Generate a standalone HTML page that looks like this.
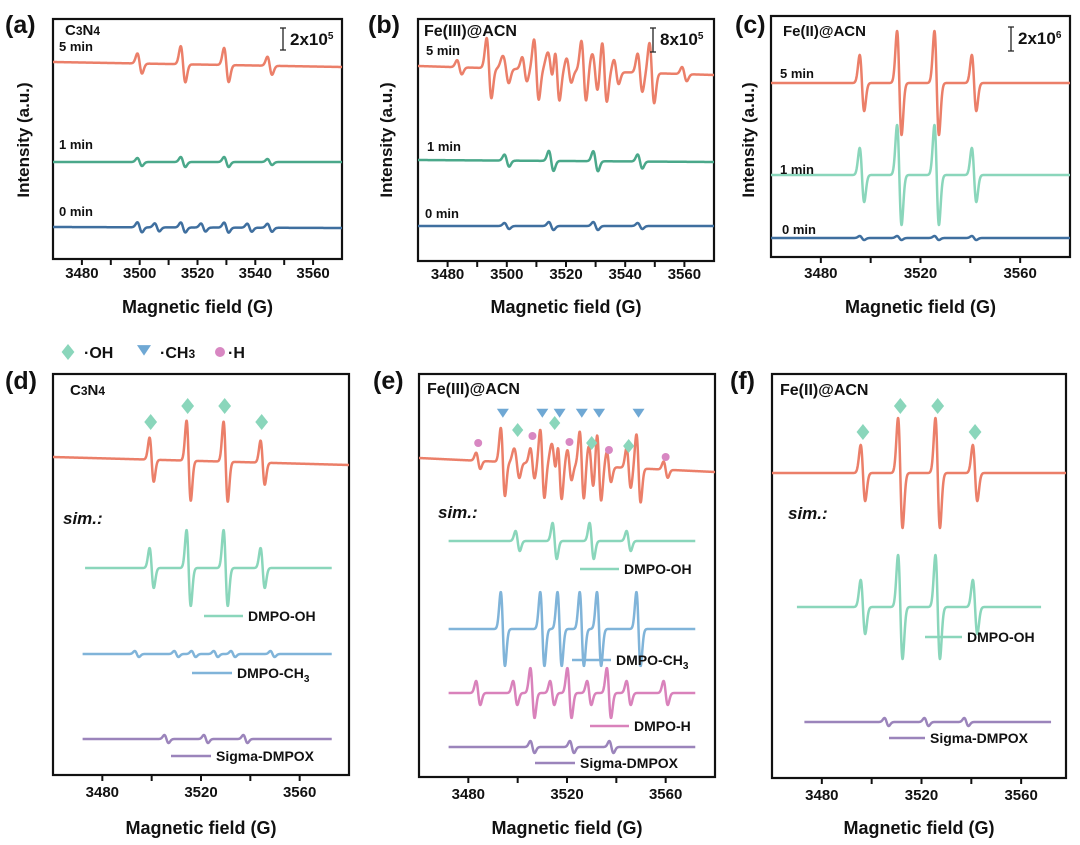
<!DOCTYPE html>
<html><head><meta charset="utf-8"><style>
html,body{margin:0;padding:0;background:#fff;}
svg{display:block;font-family:"Liberation Sans","Noto Sans CJK SC",sans-serif;font-weight:bold;}
</style></head><body>
<svg id="fig" width="1080" height="845" viewBox="0 0 1080 845">
<g id="static"></g>
</svg>
<script>
// ---- data ----
const ohPosA=[3500,3515,3530,3545];
const ohPosC=[3496.5,3511.5,3526.5,3541.5];
const ch3Pos=[3494,3510,3517,3526,3533,3549];
const hPos=[3484,3499,3506,3514,3521,3529,3537,3545,3560];
const oxPos=[3506,3522,3538];
const a5OH=[10,18,17,9];
const a1OH=[4,5,5,3];
const a0OH=[5,5,5,4];
const a0OX=[4,4,4];
const b5OH=[12,18,18,12];
const b5CH3=[30,30,30,30,30,30];
const b5H=[7,7,12,7,12,7,12,7,7];
const b1OH=[6,10,10,7];
const b0OH=[3,4,4,3];
const c5OH=[28,52,52,28];
const c1OH=[27,50,50,27];
const c0OH=[2,2,2,2];
const dExpOH=[22,40,40,22];
const dSimOH=[20,38,38,20];
const dSimCH3=[3,3,3,3,3,3];
const dSimOX=[4,4,4];
const eExpOH=[12,20,20,12];
const eExpCH3=[34,34,34,34,34,34];
const eExpH=[8,8,15,8,15,8,15,8,8];
const eSimOH=[10,18,18,10];
const eSimCH3=[37,37,37,37,37,37];
const eSimH=[12,12,25,12,25,12,25,12,12];
const eSimOX=[6,6,6];
const fExpOH=[28,55,55,28];
const fSimOH=[27,52,52,27];
const fSimOX=[4,4,4];
const ticksAB=[3480,3500,3520,3540,3560];
const ticksCF=[3480,3520,3560];

const NS='http://www.w3.org/2000/svg';
const svg=document.getElementById('fig');
function mk(tag,attrs,parent){const e=document.createElementNS(NS,tag);for(const k in attrs)e.setAttribute(k,attrs[k]);(parent||svg).appendChild(e);return e;}
function txt(x,y,s,size,anchor,name,extra){const t=mk('text',Object.assign({x:x,y:y,'font-size':size,'text-anchor':anchor||'start',fill:'#111'},extra||{}));t.innerHTML=s;


return t;}

function panel(p){
  p.sx=b=>p.x0+(b-p.bmin)/(p.bmax-p.bmin)*(p.x1-p.x0);
  const r=mk('rect',{x:p.x0,y:p.y0,width:p.x1-p.x0,height:p.y1-p.y0,fill:'none',stroke:'#111','stroke-width':2.2});
  
  
  const step=p.minor;
  for(let b=Math.ceil(p.bmin/step)*step;b<=p.bmax;b+=step){
    const x=p.sx(b);
    if(x<=p.x0+1||x>=p.x1-1)continue;
    const tk=mk('line',{x1:x,x2:x,y1:p.y1,y2:p.y1+6,stroke:'#111','stroke-width':2});
    
    
  }
  p.ticks.forEach(b=>txt(p.sx(b),p.y1+p.tl,b,15,'middle',p.id+'-x-tick-label'));
  txt((p.x0+p.x1)/2,p.ty,'Magnetic field (G)',18,'middle',p.id+'-x-axis-title');
  return p;
}
function deriv(b,c,w){const d=(b-c)/w;return -d*Math.exp(0.5-d*d/2);}
function trace(p,comps,yStart,yEnd,bFrom,bTo,color,name,w){
  w=w||0.85;
  let d='';
  for(let b=bFrom;b<=bTo+1e-9;b+=0.1){
    let v=0;
    comps.forEach(([pos,amp])=>{for(let i=0;i<pos.length;i++)v+=amp[i]*deriv(b,pos[i],w);});
    const t=(b-bFrom)/(bTo-bFrom);
    const y=yStart+(yEnd-yStart)*t-v;
    d+=(d?'L':'M')+p.sx(b).toFixed(2)+','+y.toFixed(2);
  }
  const e=mk('path',{d:d,fill:'none',stroke:color,'stroke-width':2.5,'stroke-linejoin':'round'});
  
  
}
const RED='#eb7f69',GRN='#4aa88a',LG='#8ad6bb',BLU='#3f6f9f',CB='#80b4d9',PK='#d982bb',PU='#9b84bb';

[['(a)',5,33],['(b)',368,33],['(c)',735,33],['(d)',5,389],['(e)',373,389],['(f)',730,389]].forEach(a=>txt(a[1],a[2],a[0],25,'start','panel-label-'+a[0][1]));
[[29,140],[392,140],[754,140]].forEach((a,i)=>txt(a[0],a[1],'Intensity (a.u.)',17,'middle','y-axis-title-'+'abc'[i],{transform:'rotate(-90 '+a[0]+' '+a[1]+')'}));

// ---- (a)
const pa=panel({id:'a',x0:53,x1:342,y0:19,y1:259,bmin:3470,bmax:3570,minor:10,ticks:ticksAB,ty:313,tl:19});
trace(pa,[[ohPosA,a5OH]],62,67,3470,3570,RED,'a-5min-trace',0.8);
trace(pa,[[ohPosA,a1OH]],162,162,3470,3570,GRN,'a-1min-trace',0.8);
trace(pa,[[ohPosA,a0OH],[oxPos,a0OX]],227,228,3470,3570,BLU,'a-0min-trace',0.8);
txt(65,35,'C<tspan font-size="12">3</tspan>N<tspan font-size="12">4</tspan>',15,'start','a-sample-label');
txt(59,51,'5 min',13,'start','a-5min-label');txt(59,149,'1 min',13,'start','a-1min-label');txt(59,216,'0 min',13,'start','a-0min-label');
// ---- (b)
const pb=panel({id:'b',x0:418,x1:714,y0:19,y1:261,bmin:3470,bmax:3570,minor:10,ticks:ticksAB,ty:313,tl:18});
trace(pb,[[ohPosA,b5OH],[ch3Pos,b5CH3],[hPos,b5H]],66,75,3470,3570,RED,'b-5min-trace',0.8);
trace(pb,[[ohPosA,b1OH]],160,162,3470,3570,GRN,'b-1min-trace',0.8);
trace(pb,[[ohPosA,b0OH]],226,226,3470,3570,BLU,'b-0min-trace',0.8);
txt(424,36,'Fe(III)@ACN',16,'start','b-sample-label');
txt(426,55,'5 min',13,'start','b-5min-label');txt(427,151,'1 min',13,'start','b-1min-label');txt(425,218,'0 min',13,'start','b-0min-label');
// ---- (c)
const pc=panel({id:'c',x0:771,x1:1070,y0:16,y1:257,bmin:3460,bmax:3580,minor:20,ticks:ticksCF,ty:313,tl:21});
trace(pc,[[ohPosC,c5OH]],83,83,3460,3580,RED,'c-5min-trace',0.9);
trace(pc,[[ohPosC,c1OH]],175,175,3460,3580,LG,'c-1min-trace',0.9);
trace(pc,[[ohPosC,c0OH]],238,238,3460,3580,BLU,'c-0min-trace',0.9);
txt(783,36,'Fe(II)@ACN',15,'start','c-sample-label');
txt(780,78,'5 min',13,'start','c-5min-label');txt(780,174,'1 min',13,'start','c-1min-label');txt(782,234,'0 min',13,'start','c-0min-label');
[[283,28,50,'2x10<tspan font-size="10" dy="-6">5</tspan>','a'],[653,28,52,'8x10<tspan font-size="10" dy="-6">5</tspan>','b'],[1011,27,51,'2x10<tspan font-size="10" dy="-6">6</tspan>','c']].forEach(s=>{
  const g=mk('path',{d:`M${s[0]-3},${s[1]}H${s[0]+3}M${s[0]},${s[1]}V${s[2]}M${s[0]-3},${s[2]}H${s[0]+3}`,stroke:'#222','stroke-width':1.3,fill:'none'});
  
  
  txt(s[0]+7,s[1]+17,s[3],17,'start',s[4]+'-scale-label');
});

function diamond(x,y,s,name){const e=mk('path',{d:`M${x},${y-s}L${x+s*0.8},${y}L${x},${y+s}L${x-s*0.8},${y}Z`,fill:LG});

}
function tri(x,y,s,name){const e=mk('path',{d:`M${x-s},${y-s*0.7}L${x+s},${y-s*0.7}L${x},${y+s*0.8}Z`,fill:'#6fa8d4'});

}
function dot(x,y,r,name){const e=mk('circle',{cx:x,cy:y,r:r,fill:'#d887c2'});

}
diamond(68,352,8,'legend-oh-marker');txt(84,358,'·OH',16,'start','legend-oh-label');
tri(144,350,7,'legend-ch3-marker');txt(160,358,'·CH<tspan font-size="12">3</tspan>',16,'start','legend-ch3-label');
dot(220,352,5,'legend-h-marker');txt(228,358,'·H',16,'start','legend-h-label');

function legLine(x1,x2,y,color,label,name){const e=mk('line',{x1:x1,x2:x2,y1:y,y2:y,stroke:color,'stroke-width':2.5});


txt(x2+5,y+5,label,14,'start',name+'-legend-label');}

// ---- (d)
const pd=panel({id:'d',x0:53,x1:349,y0:374,y1:775,bmin:3460,bmax:3580,minor:20,ticks:ticksCF,ty:834,tl:22});
trace(pd,[[ohPosA,dExpOH]],457,465,3460,3580,RED,'d-experimental-trace');
trace(pd,[[ohPosA,dSimOH]],568,568,3473,3573,LG,'d-sim-dmpo-oh');
trace(pd,[[ch3Pos,dSimCH3]],654,654,3472,3573,CB,'d-sim-dmpo-ch3');
trace(pd,[[oxPos,dSimOX]],739,739,3472,3573,PU,'d-sim-sigma-dmpox');
ohPosA.forEach((b,i)=>diamond(pd.sx(b)-1,i==1||i==2?406:422,8,'d-oh-marker'));
txt(70,395,'C<tspan font-size="12">3</tspan>N<tspan font-size="12">4</tspan>',15,'start','d-sample-label');
txt(63,524,'sim.:',17,'start','d-sim-label',{'font-style':'italic'});
legLine(204,243,616,LG,'DMPO-OH','d-dmpo-oh');
legLine(192,232,673,CB,'DMPO-CH<tspan font-size="10" dy="4">3</tspan>','d-dmpo-ch3');
legLine(171,211,756,PU,'Sigma-DMPOX','d-sigma-dmpox');
// ---- (e)
const pe=panel({id:'e',x0:419,x1:715,y0:374,y1:777,bmin:3460,bmax:3580,minor:20,ticks:ticksCF,ty:834,tl:22});
trace(pe,[[ohPosA,eExpOH],[ch3Pos,eExpCH3],[hPos,eExpH]],458,472,3460,3580,RED,'e-experimental-trace');
trace(pe,[[ohPosA,eSimOH]],541,541,3472,3572,LG,'e-sim-dmpo-oh');
trace(pe,[[ch3Pos,eSimCH3]],629,629,3472,3572,CB,'e-sim-dmpo-ch3');
trace(pe,[[hPos,eSimH]],693,693,3472,3572,PK,'e-sim-dmpo-h');
trace(pe,[[oxPos,eSimOX]],747,747,3472,3572,PU,'e-sim-sigma-dmpox');
const eDiaY=[430,423,443,446];
ohPosA.forEach((b,i)=>diamond(pe.sx(b),eDiaY[i],7,'e-oh-marker'));
ch3Pos.forEach(b=>tri(pe.sx(b),413,6,'e-ch3-marker'));
const eDotY=[443,436,442,450,457];
[3484,3506,3521,3537,3560].forEach((b,i)=>dot(pe.sx(b),eDotY[i],4,'e-h-marker'));
txt(427,394,'Fe(III)@ACN',16,'start','e-sample-label');
txt(438,518,'sim.:',17,'start','e-sim-label',{'font-style':'italic'});
legLine(580,619,569,LG,'DMPO-OH','e-dmpo-oh');
legLine(572,611,660,CB,'DMPO-CH<tspan font-size="10" dy="4">3</tspan>','e-dmpo-ch3');
legLine(590,629,726,PK,'DMPO-H','e-dmpo-h');
legLine(535,575,763,PU,'Sigma-DMPOX','e-sigma-dmpox');
// ---- (f)
const pf=panel({id:'f',x0:772,x1:1066,y0:374,y1:778,bmin:3460,bmax:3578,minor:20,ticks:ticksCF,ty:834,tl:22});
trace(pf,[[ohPosC,fExpOH]],473,473,3460,3578,RED,'f-experimental-trace',0.9);
trace(pf,[[ohPosC,fSimOH]],607,607,3470,3568,LG,'f-sim-dmpo-oh',0.9);
trace(pf,[[oxPos,fSimOX]],722,722,3473,3572,PU,'f-sim-sigma-dmpox');
ohPosC.forEach((b,i)=>diamond(pf.sx(b),i==1||i==2?406:432,8,'f-oh-marker'));
txt(780,395,'Fe(II)@ACN',16,'start','f-sample-label');
txt(788,519,'sim.:',17,'start','f-sim-label',{'font-style':'italic'});
legLine(925,962,637,LG,'DMPO-OH','f-dmpo-oh');
legLine(889,925,738,PU,'Sigma-DMPOX','f-sigma-dmpox');
</script>
</body></html>
